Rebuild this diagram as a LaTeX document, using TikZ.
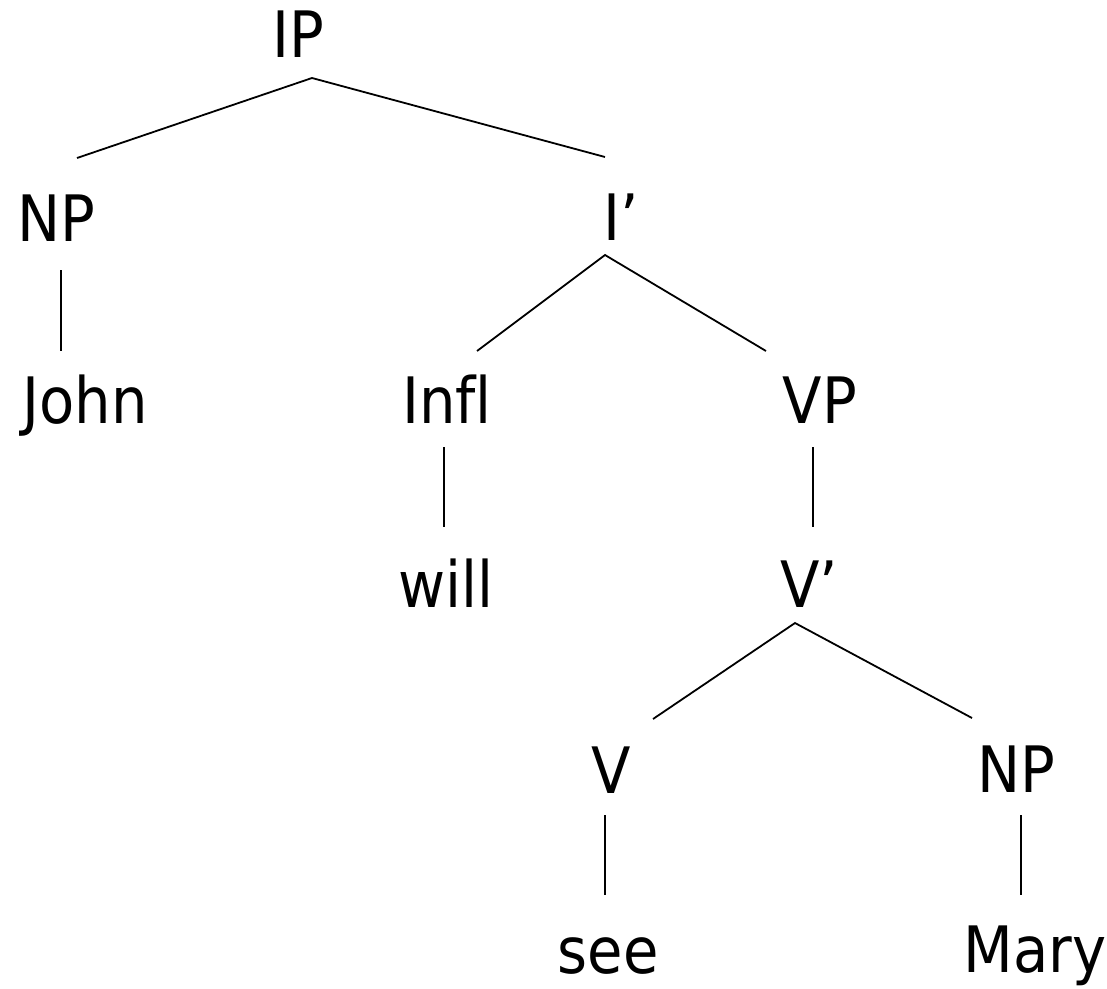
\documentclass[tikz,border=0pt]{standalone}
\usepackage{fontspec}
\setmainfont{DejaVu Sans}[FakeStretch=0.9,Ligatures=NoCommon]
\begin{document}
\begin{tikzpicture}[x=1pt,y=-1pt,
  lbl/.style={anchor=base,inner sep=0pt,font=\fontsize{64}{77}\selectfont},
  edge/.style={line width=1.8pt,black}]
\useasboundingbox (0,0) rectangle (1107,988);
% labels
\node[lbl] (IP) at (298,57) {IP};
\node[lbl] (NPa) at (56,241) {NP};
\node[lbl] (Ib) at (621,240) {I’};
\node[lbl] (John) at (85,423) {John};
\node[lbl] (Infl) at (447,423) {Infl};
\node[lbl] (VP) at (820,423) {VP};
\node[lbl] (will) at (446,607) {will};
\node[lbl] (Vb) at (809,607) {V’};
\node[lbl] (V) at (611,793) {V};
\node[lbl] (NPb) at (1016,792) {NP};
\node[lbl] (see) at (608,973) {see};
\node[lbl] (Mary) at (1035,972) {Mary};
% attachment points
\coordinate (IP-s) at (312,78);
\coordinate (NPa-n) at (77,158);
\coordinate (Ib-n) at (605,157);
\coordinate (NPa-s) at (61,270);
\coordinate (John-n) at (61,351);
\coordinate (Ib-s) at (605,255);
\coordinate (Infl-n) at (477,351);
\coordinate (VP-n) at (766,351);
\coordinate (Infl-s) at (444,447);
\coordinate (will-n) at (444,527);
\coordinate (VP-s) at (813,447);
\coordinate (Vb-n) at (813,527);
\coordinate (Vb-s) at (795,623);
\coordinate (V-n) at (653,719);
\coordinate (NPb-n) at (972,718);
\coordinate (V-s) at (605,815);
\coordinate (see-n) at (605,895);
\coordinate (NPb-s) at (1021,815);
\coordinate (Mary-n) at (1021,895);
% edges
\draw[edge] (NPa-n) -- (IP-s) -- (Ib-n);
\draw[edge] (NPa-s) -- (John-n);
\draw[edge] (Infl-n) -- (Ib-s) -- (VP-n);
\draw[edge] (Infl-s) -- (will-n);
\draw[edge] (VP-s) -- (Vb-n);
\draw[edge] (V-n) -- (Vb-s) -- (NPb-n);
\draw[edge] (V-s) -- (see-n);
\draw[edge] (NPb-s) -- (Mary-n);
\end{tikzpicture}
\end{document}
